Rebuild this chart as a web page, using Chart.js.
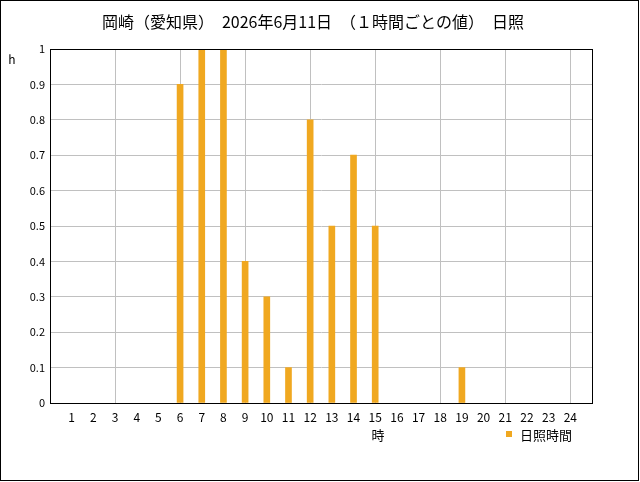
<!DOCTYPE html>
<html>
<head>
<meta charset="utf-8">
<script src="https://cdn.jsdelivr.net/npm/chart.js@4"></script>
<style>
body{margin:0;background:#fff;}
#wrap{position:relative;width:640px;height:482px;}
</style>
</head>
<body>
<div id="wrap"><canvas id="sunChart" width="640" height="482"></canvas></div>
<script>
const hours = [1,2,3,4,5,6,7,8,9,10,11,12,13,14,15,16,17,18,19,20,21,22,23,24];
const sunshine = [0,0,0,0,0,0.9,1,1,0.4,0.3,0.1,0.8,0.5,0.7,0.5,0,0,0,0.1,0,0,0,0,0];
const titleText = "岡崎（愛知県）　2026年6月11日　（１時間ごとの値）　日照";
const seriesName = "日照時間";
const barColor = "#F0A820";
const jp = "'Noto Sans CJK JP', sans-serif";

// title, unit labels, legend and frame
const extras = {
    id:"extras",
    afterDraw(chart){
        const c = chart.ctx, a = chart.chartArea;
        c.save();
        c.strokeStyle = "#000";
        c.lineWidth = 1;
        c.strokeRect(a.left+0.5, a.top+0.5, a.right-a.left, a.bottom-a.top);
        c.strokeRect(0.5, 0.5, 638, 480);
        c.fillStyle = "#000";
        c.textBaseline = "middle";
        c.textAlign = "center";
        c.font = "16px " + jp;
        c.fillText(titleText, 313, 22);
        c.font = "12px " + jp;
        c.fillText("h", 12, 59);
        c.font = "13px " + jp;
        c.fillText("時", 378, 435);
        c.textAlign = "left";
        c.fillText(seriesName, 520, 435);
        c.fillStyle = barColor;
        c.fillRect(506, 431, 6, 6);
        c.restore();
    }
};

new Chart(document.getElementById("sunChart"),{
    type:"bar",
    data:{
        datasets:[{
            label:seriesName,
            // zero hours draw no bar
            data:hours.map((h,i)=>({x:h,y:sunshine[i]>0?sunshine[i]:null})),
            backgroundColor:barColor,
            borderWidth:0,
            barThickness:6
        }]
    },
    options:{
        responsive:false,
        animation:false,
        layout:{padding:{left:0,right:48,top:49,bottom:0}},
        plugins:{
            legend:{display:false},
            title:{display:false},
            tooltip:{enabled:false}
        },
        scales:{
            x:{
                type:"linear",
                offset:false,
                min:0,
                max:25,
                ticks:{
                    stepSize:1,
                    autoSkip:false,
                    padding:7,
                    color:"#000",
                    font:{size:12,family:jp},
                    callback:v=>hours.includes(v)?String(v):""
                },
                grid:{
                    offset:false,
                    drawTicks:false,
                    color:ctx=>(ctx.tick && ctx.tick.value>0 && ctx.tick.value%3===0)?"#c0c0c0":"rgba(0,0,0,0)"
                },
                border:{color:"#000"},
                afterFit:s=>{s.height=79;}
            },
            y:{
                min:0,
                max:1,
                ticks:{
                    stepSize:0.1,
                    padding:5,
                    color:"#000",
                    font:{size:11,family:jp},
                    callback:v=>String(Math.round(v*10)/10)
                },
                grid:{drawTicks:false,color:"#c0c0c0"},
                border:{color:"#000"},
                afterFit:s=>{s.width=50;}
            }
        }
    },
    plugins:[extras]
});
</script>
</body>
</html>
